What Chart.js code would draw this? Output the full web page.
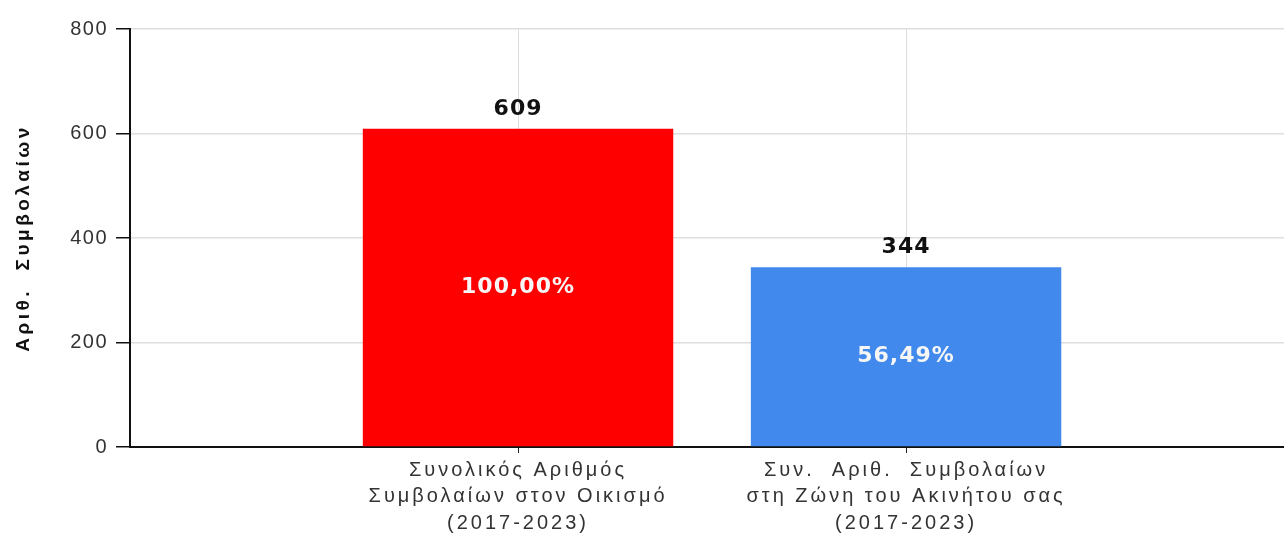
<!DOCTYPE html>
<html>
<head>
<meta charset="utf-8">
<script src="https://cdn.jsdelivr.net/npm/chart.js@4.4.1/dist/chart.umd.min.js"></script>
<style>
  body { margin: 0; background: #fff; }
</style>
</head>
<body>
<canvas id="contracts_chart" width="1284" height="551"></canvas>
<script>
  // categories (multi-line axis labels)
  let categories = [
    ["Συνολικός Αριθμός", "Συμβολαίων στον Οικισμό", "(2017-2023)"],
    ["Συν.  Αριθ.  Συμβολαίων", "στη Ζώνη του Ακινήτου σας", "(2017-2023)"]
  ];
  let contracts = [609, 344];
  let barColors = ["#ff0000", "#4189ec"];
  let yTicks = [0, 200, 400, 600, 800];
  let yTitle = "Αριθ.  Συμβολαίων";

  // wrap a scale draw step so its text gets some letter spacing
  function spaced(scale, fnName, spacing) {
    if (scale["_spaced_" + fnName]) return;
    let orig = scale[fnName];
    scale[fnName] = function() {
      let ctx = this.ctx;
      ctx.save();
      ctx.letterSpacing = spacing;
      orig.apply(this, arguments);
      ctx.restore();
    };
    scale["_spaced_" + fnName] = true;
  }

  // bar labels: value above, share of the first bar inside
  let barLabels = {
    id: "barLabels",
    beforeDraw(chart) {
      spaced(chart.scales.x, "drawLabels", "3px");
      spaced(chart.scales.y, "drawLabels", "1.5px");
      spaced(chart.scales.y, "drawTitle", "3.5px");
    },
    afterDatasetsDraw(chart) {
      let ctx = chart.ctx;
      let meta = chart.getDatasetMeta(0);
      ctx.save();
      ctx.letterSpacing = "1px";
      ctx.textAlign = "center";
      ctx.textBaseline = "middle";
      ctx.font = "bold 22px 'DejaVu Sans'";
      meta.data.forEach(function(bar, i) {
        let v = contracts[i];
        let pct = (v / contracts[0] * 100).toFixed(2).replace(".", ",") + "%";
        ctx.fillStyle = "#111";
        ctx.fillText(String(v), bar.x, bar.y - 20);
        ctx.fillStyle = "#f6f6f6";
        ctx.fillText(pct, bar.x, (bar.y + bar.base) / 2);
      });
      ctx.restore();
    }
  };

  let points = [];
  for (let i = 0; i < contracts.length; i++) {
    points.push({ x: i + 1, y: contracts[i] });
  }

  let chart = new Chart(document.getElementById("contracts_chart"), {
    type: "bar",
    data: {
      datasets: [
        {
          data: points,
          backgroundColor: barColors,
          borderWidth: 0,
          categoryPercentage: 1,
          barPercentage: 0.8
        }
      ]
    },
    options: {
      responsive: false,
      animation: false,
      layout: { padding: { top: 29, right: 0, bottom: 0, left: 0 } },
      plugins: {
        legend: { display: false },
        tooltip: { enabled: false }
      },
      scales: {
        x: {
          type: "linear",
          min: 0,
          max: 2.974,
          offset: false,
          afterBuildTicks: function(scale) {
            scale.ticks = categories.map(function(c, i) { return { value: i + 1 }; });
          },
          afterFit: function(scale) { scale.height = 104; },
          grid: {
            offset: false,
            color: "#dedede",
            lineWidth: 1,
            tickColor: "#222",
            tickLength: 6
          },
          border: { color: "#111", width: 2 },
          ticks: {
            autoSkip: false,
            maxRotation: 0,
            padding: 4,
            color: "#333",
            font: { family: "'Liberation Sans', Arial", size: 20, lineHeight: 1.32 },
            callback: function(value) { return categories[value - 1] || ""; }
          }
        },
        y: {
          min: 0,
          max: 800,
          afterBuildTicks: function(scale) {
            scale.ticks = yTicks.map(function(v) { return { value: v }; });
          },
          afterFit: function(scale) { scale.width = 130; },
          grid: {
            color: "#dedede",
            lineWidth: 1.5,
            tickColor: "#111",
            tickLength: 14
          },
          border: { color: "#111", width: 2 },
          ticks: {
            padding: 8,
            color: "#333",
            font: { family: "'Liberation Sans', Arial", size: 20 }
          },
          title: {
            display: true,
            text: yTitle,
            color: "#111",
            padding: { top: 12, bottom: 0 },
            font: { family: "'Liberation Sans', Arial", size: 19, weight: "bold" }
          }
        }
      }
    },
    plugins: [barLabels]
  });
</script>
</body>
</html>
